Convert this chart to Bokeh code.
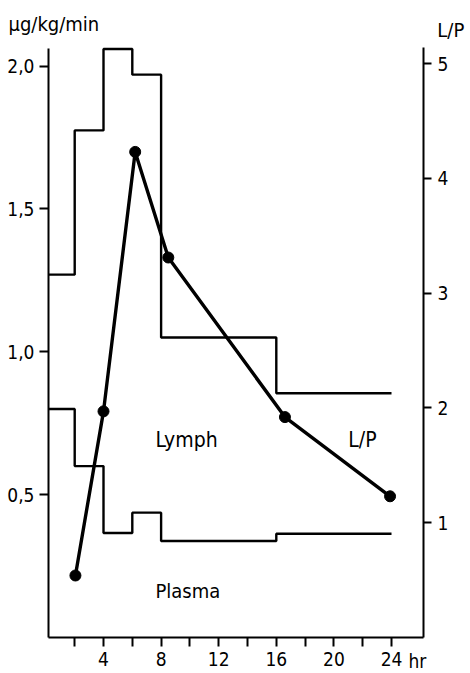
from bokeh.plotting import figure
from bokeh.models import Range1d, LinearAxis, FixedTicker, Label
from bokeh.embed import file_html
from bokeh.resources import INLINE

# ---- data ----
step_edges = [0, 2, 4, 6, 8, 16, 24]                   # hr
lymph_rate = [1.27, 1.775, 2.06, 1.97, 1.05, 0.855]    # µg/kg/min
plasma_rate = [0.80, 0.60, 0.366, 0.437, 0.338, 0.363] # µg/kg/min
lp_hours = [2.05, 4.0, 6.2, 8.5, 16.6, 23.9]
lp_ratio = [0.54, 1.97, 4.23, 3.31, 1.92, 1.23]        # L/P

left_ticks = [0.5, 1.0, 1.5, 2.0]
left_tick_labels = ["0,5", "1,0", "1,5", "2,0"]
right_ticks = [1, 2, 3, 4, 5]
x_ticks = [2, 4, 6, 8, 10, 12, 14, 16, 18, 20, 22, 24]
x_tick_labels = ["", "4", "", "8", "", "12", "", "16", "", "20", "", "24"]

# axis extents (data units)
X_MIN, X_MAX = 0.18, 26.22
Y_MAX = 2.06
LP_MAX = 5.14

FONT = "DejaVu Sans Condensed"

p = figure(width=470, height=673, output_backend="svg", toolbar_location=None,
           x_range=Range1d(-3.153, 29.486), y_range=Range1d(-0.126, 2.2296),
           min_border=0, x_axis_location=None, y_axis_location=None)
p.title.visible = False
p.extra_y_ranges = {"lp": Range1d(-0.3136, 5.5488)}
p.outline_line_color = None
p.grid.visible = False
p.background_fill_color = "white"
p.border_fill_color = "white"

def step_xy(edges, vals):
    xs, ys = [], []
    for i, v in enumerate(vals):
        xs += [edges[i], edges[i + 1]]
        ys += [v, v]
    return xs, ys

lx, ly = step_xy([X_MIN] + step_edges[1:], lymph_rate)
px, py = step_xy([X_MIN] + step_edges[1:], plasma_rate)
p.line(lx, ly, line_color="black", line_width=2.4)
p.line(px, py, line_color="black", line_width=2.4)
p.line(lp_hours, lp_ratio, y_range_name="lp", line_color="black", line_width=3.4)
p.scatter(lp_hours, lp_ratio, y_range_name="lp", size=11, color="black")

def style_axis(ax, standoff):
    ax.axis_line_width = 2
    ax.axis_line_color = "black"
    ax.major_tick_line_width = 2
    ax.major_tick_in = 0
    ax.major_tick_out = 9
    ax.minor_tick_line_color = None
    ax.major_label_text_font = FONT
    ax.major_label_text_font_size = "19px"
    ax.major_label_text_color = "black"
    ax.major_label_standoff = standoff

xa = LinearAxis(ticker=FixedTicker(ticks=x_ticks), fixed_location=0,
                bounds=(X_MIN, X_MAX))
xa.major_label_overrides = {t: s for t, s in zip(x_ticks, x_tick_labels)}
style_axis(xa, 5)
p.add_layout(xa, "below")

ya = LinearAxis(ticker=FixedTicker(ticks=left_ticks), fixed_location=X_MIN,
                bounds=(0, Y_MAX))
ya.major_label_overrides = {t: s for t, s in zip(left_ticks, left_tick_labels)}
style_axis(ya, 5)
p.add_layout(ya, "left")

ra = LinearAxis(y_range_name="lp", ticker=FixedTicker(ticks=right_ticks),
                fixed_location=X_MAX, bounds=(0, LP_MAX))
style_axis(ra, 6)
ra.major_tick_out = 8
p.add_layout(ra, "right")

def lab(x, y, text, size="20px", rng="default"):
    p.add_layout(Label(x=x, y=y, text=text, y_range_name=rng, text_font=FONT,
                       text_font_size=size, text_color="black",
                       text_align="left", text_baseline="middle"))

lab(7.61, 0.69, "Lymph", "21px")
lab(7.61, 0.1645, "Plasma")
lab(21.0, 0.69, "L/P", "21px")
lab(-2.6, 2.149, "µg/kg/min")
lab(27.18, 2.125, "L/P")
lab(25.18, -0.0815, "hr", "19px")

open("out.html", "w").write(file_html(p, INLINE))
